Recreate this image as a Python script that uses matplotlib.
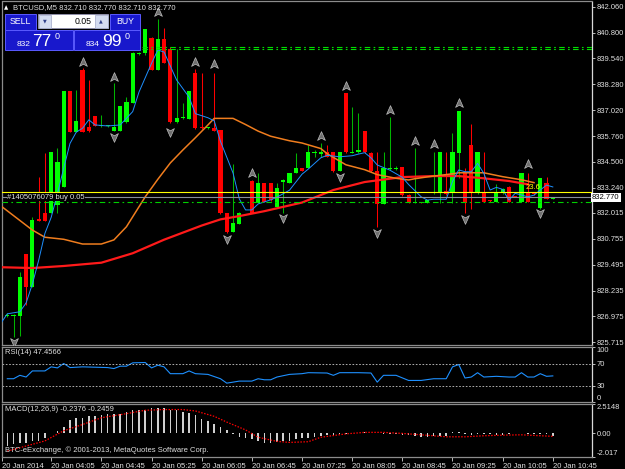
import numpy as np
import matplotlib
matplotlib.use("Agg")
import matplotlib.pyplot as plt
from matplotlib.patches import Rectangle
from matplotlib.path import Path
from matplotlib.transforms import blended_transform_factory

plt.rcParams["font.family"] = ["Liberation Sans", "DejaVu Sans"]

# ---------------- data ----------------
nan = float("nan")
opens = [826.99, 826.99, 826.99, 830.01, 828.39, 831.70, 831.99, 831.99, 832.40, 833.26,
         837.97, 835.97, 838.97, 836.22, 836.74, 836.25, 836.25, 836.02, 836.02, 836.46,
         837.39, 839.76, 839.79, 840.52, 838.97, 840.49, 839.98, 836.46, 836.62, 836.59,
         838.81, 836.22, 836.14, 836.14, 836.05, 831.99, 831.10, 831.47, nan, 833.59,
         832.51, 833.49, 833.49, 832.29, 833.54, 833.46, 833.98, 834.19, 834.19, 834.92,
         834.89, 835.00, 835.00, 834.07, 837.87, 834.95, 834.97, 836.00, 834.95, 834.07,
         832.45, 834.14, 834.14, 834.24, 832.89, 832.51, 832.56, 832.48, 832.97, 832.97,
         833.10, 832.97, 834.95, 834.02, 835.32, 832.97, 832.97, 832.61, 832.56, 832.97,
         833.29, 832.84, 832.56, 832.97, 832.97, 832.24, 833.46, 832.71]
highs = [827.12, 827.10, 829.15, 830.01, 831.83, 833.78, 834.92, 834.97, 835.16, 837.97,
         837.97, 838.00, 839.05, 838.49, 836.74, 836.79, 836.28, 838.33, 837.22, 837.68,
         839.87, 839.87, 840.97, 840.60, 841.46, 841.01, 840.11, 839.98, 837.39, 837.97,
         839.01, 838.85, 836.22, 838.85, 836.05, 832.03, 834.40, 832.06, nan, 833.62,
         833.98, 833.49, 833.49, 833.49, 833.67, 833.98, 834.92, 834.19, 835.32, 835.08,
         835.40, 835.32, 835.00, 835.00, 837.87, 837.19, 836.87, 836.00, 835.00, 835.00,
         835.00, 836.67, 834.30, 834.24, 832.92, 835.16, 832.56, 832.64, 835.00, 835.00,
         835.00, 835.89, 836.98, 834.19, 836.35, 835.00, 835.00, 832.64, 833.41, 833.21,
         833.33, 832.86, 833.98, 833.98, 833.05, 833.70, 833.75, 832.77]
lows = [826.96, 825.99, 826.02, 827.53, 828.39, 831.63, 831.63, 831.99, 831.99, 833.26,
        835.97, 835.97, 835.97, 835.97, 836.25, 836.22, 836.22, 836.00, 836.02, 836.38,
        837.39, 839.71, 839.71, 838.97, 838.97, 839.33, 836.41, 836.41, 836.59, 836.59,
        836.10, 836.10, 836.10, 836.02, 831.96, 831.02, 831.07, 831.47, nan, 831.99,
        832.48, 832.53, 832.61, 832.24, 831.99, 833.46, 833.94, 834.07, 834.19, 834.75,
        834.75, 834.72, 834.02, 834.07, 834.95, 834.95, 834.95, 834.95, 834.02, 831.35,
        832.45, 834.11, 834.11, 832.84, 832.48, 832.51, 832.48, 832.48, 832.94, 832.48,
        832.89, 832.48, 833.70, 831.99, 832.19, 832.94, 832.53, 832.56, 832.53, 832.94,
        832.53, 832.79, 832.53, 832.53, 832.89, 832.19, 832.68, 832.71]
closes = [827.04, 827.04, 828.91, 828.39, 831.67, 831.63, 831.63, 834.97, 834.48, 837.97,
          835.97, 836.51, 835.97, 836.02, 836.25, 836.28, 836.26, 836.22, 837.22, 837.40,
          839.79, 839.82, 840.97, 838.97, 840.47, 839.33, 836.46, 836.62, 836.67, 837.97,
          836.14, 836.14, 836.19, 836.02, 831.99, 831.10, 831.51, 832.03, nan, 831.99,
          833.49, 832.56, 832.64, 833.21, 833.62, 833.98, 834.19, 834.07, 835.00, 835.00,
          835.00, 834.75, 834.07, 835.00, 835.00, 835.00, 835.08, 835.00, 834.07, 832.45,
          834.19, 834.19, 834.22, 832.89, 832.51, 832.56, 832.48, 832.64, 833.05, 835.00,
          832.94, 835.00, 836.98, 832.48, 832.97, 835.00, 832.56, 832.59, 832.97, 833.16,
          832.56, 832.81, 833.98, 832.56, 832.94, 833.70, 832.71, 832.77]

# moving averages (bar index, price)
fast_ma_idx = [-1, 0, 2, 3, 4, 5, 6, 7, 8, 9, 10, 11, 12, 13, 14, 16, 18, 20, 21, 23, 24, 25,
               27, 29, 30, 32, 33, 34, 36, 37, 38, 39, 40, 42, 43, 45, 47, 48, 50, 51, 53, 55,
               56, 57, 58, 59, 61, 63, 64, 66, 67, 68, 70, 71, 72, 73, 74, 75, 76, 77, 78, 79,
               80, 81, 83, 84, 85, 86, 87]
fast_ma = [826.65, 827.10, 827.20, 827.63, 828.55, 829.70, 831.02, 831.80, 832.95, 834.20,
           835.40, 835.95, 836.14, 836.55, 836.30, 836.25, 836.30, 836.95, 837.90, 839.30,
           839.95, 839.85, 838.49, 837.65, 836.85, 836.65, 836.50, 835.50, 833.96, 832.70,
           832.16, 832.16, 832.45, 832.65, 832.78, 833.12, 833.90, 834.15, 834.70, 834.82,
           834.75, 834.80, 834.88, 834.95, 834.70, 834.35, 834.10, 833.75, 833.40, 832.80,
           832.64, 832.68, 832.68, 833.55, 834.11, 834.02, 834.02, 834.43, 833.94, 833.13,
           833.26, 833.16, 832.64, 832.97, 832.80, 832.88, 833.13, 833.37, 833.28]
mid_ma_idx = [-1, 4, 6, 9, 12, 15, 17, 19, 22, 24, 26, 28, 30, 32, 33, 36, 38, 40, 42, 45,
              47, 50, 51, 54, 57, 59, 62, 64, 65, 67, 71, 72, 76, 79, 82, 84]
mid_ma = [832.35, 831.18, 830.83, 830.73, 830.50, 830.50, 830.70, 831.34, 832.80, 833.65,
          834.45, 835.08, 835.68, 836.30, 836.62, 836.62, 836.32, 836.00, 835.75, 835.53,
          835.42, 835.15, 834.90, 834.36, 834.12, 833.88, 833.70, 833.62, 833.68, 833.77,
          833.92, 833.97, 833.97, 833.78, 833.63, 833.49]
slow_ma_idx = [-1, 4, 9, 15, 20, 25, 31, 34, 37, 41, 47, 52, 57, 63, 68, 72, 76, 80, 83]
slow_ma = [829.37, 829.33, 829.43, 829.59, 830.05, 830.71, 831.40, 831.70, 831.86, 832.10,
           832.52, 833.13, 833.52, 833.76, 833.81, 833.81, 833.70, 833.57, 833.41]

# fractals
frac_up_idx = [12, 17, 24, 30, 33, 39, 50, 54, 61, 65, 68, 72, 83]
frac_up = [839.38, 838.62, 841.82, 839.38, 839.27, 833.97, 835.76, 838.20, 837.03, 835.52,
           835.37, 837.35, 834.38]
frac_dn_idx = [1, 17, 26, 35, 44, 53, 59, 73, 85]
frac_dn = [825.74, 835.73, 835.97, 830.73, 831.75, 833.78, 831.05, 831.74, 831.99]

# horizontal levels
tp_levels = [840.11, 839.99]
tp_start = 21.5
sl_level = 832.53
order_level = 833.02
bid_level = 832.77

# RSI(14)
rsi_idx = [0, 1, 2, 3, 4, 6, 7, 8, 9, 10, 12, 16, 17, 18, 19, 20, 22, 23, 24, 25, 26, 28,
           29, 30, 32, 34, 35, 36, 37, 39, 40, 41, 42, 43, 45, 47, 48, 51, 52, 53, 56, 58,
           59, 60, 62, 64, 66, 68, 70, 71, 72, 73, 74, 75, 76, 78, 80, 81, 82, 83, 84, 85,
           86, 87]
rsi = [42.3, 42.3, 48.5, 45.4, 56.5, 56.5, 63.9, 62.0, 70.0, 62.6, 63.9, 62.6, 60.8, 65.1,
       65.1, 71.2, 71.8, 62.0, 66.9, 63.9, 51.5, 51.5, 56.5, 51.5, 50.2, 42.3, 34.3, 36.1,
       38.0, 38.0, 42.3, 40.4, 40.4, 45.4, 50.2, 51.5, 53.3, 52.7, 48.5, 53.3, 53.3, 52.7,
       36.1, 48.5, 48.5, 39.2, 39.2, 42.3, 42.3, 63.9, 68.1, 43.6, 45.4, 53.3, 45.4, 46.7,
       45.4, 45.4, 53.3, 45.4, 45.4, 51.5, 46.7, 47.46]

# MACD(12,26,9)
macd_hist = [-1.07, -0.93, -0.80, -0.78, -0.64, -0.64, -0.35, 0.00, 0.23, 0.52,
             1.16, 1.34, 1.34, 1.46, 1.46, 1.55, 1.69, 1.69, 1.69, 1.84,
             1.98, 1.98, 2.04, 2.21, 2.21, 2.21, 2.04, 1.98, 1.84, 1.75,
             1.55, 1.26, 1.05, 0.81, 0.52, 0.29, -0.06, -0.29, -0.35, -0.49,
             -0.64, -0.78, -0.78, -0.72, -0.64, -0.64, -0.49, -0.41, -0.35, -0.29,
             -0.20, -0.12, -0.12, -0.06, -0.06, 0.00, 0.06, 0.09, 0.06, 0.00,
             -0.06, -0.06, -0.06, -0.12, -0.12, -0.20, -0.29, -0.29, -0.23, -0.23,
             -0.20, 0.09, 0.09, -0.06, -0.12, -0.06, -0.06, -0.06, -0.12, -0.12,
             -0.06, 0.00, 0.06, -0.06, -0.06, -0.06, -0.06, -0.24]
macd_sig_idx = [0, 3, 6, 9, 12, 15, 19, 22, 25, 28, 30, 33, 35, 38, 40, 43, 45, 48, 50, 54,
                57, 60, 63, 66, 70, 73, 76, 79, 82, 87]
macd_sig = [-1.51, -1.08, -0.64, 0.23, 0.76, 1.34, 1.69, 1.98, 2.04, 2.04, 1.92, 1.46, 0.97,
            0.30, -0.33, -0.68, -0.77, -0.71, -0.33, -0.04, 0.09, 0.09, 0.00, -0.12, -0.29,
            -0.29, -0.20, -0.15, -0.12, -0.25]

price_ticks = [842.060, 840.800, 839.540, 838.280, 837.020, 835.760, 834.500, 833.240,
               832.015, 830.755, 829.495, 828.235, 826.975, 825.715]
time_idx = [-0.845, 7, 15, 23, 31, 39, 47, 55, 63, 71, 79, 87]
time_labels = ["20 Jan 2014", "20 Jan 04:05", "20 Jan 04:45", "20 Jan 05:25", "20 Jan 06:05",
               "20 Jan 06:45", "20 Jan 07:25", "20 Jan 08:05", "20 Jan 08:45", "20 Jan 09:25",
               "20 Jan 10:05", "20 Jan 10:45"]

# ---------------- figure ----------------
W, H = 625, 469
fig = plt.figure(figsize=(6.25, 4.69), dpi=100, facecolor="black")
FS = 5.5
TXT = "#e0e0e0"


def px_axes(x0, y0, x1, y1):
    return fig.add_axes([x0 / W, 1 - y1 / H, (x1 - x0) / W, (y1 - y0) / H], facecolor="black")


ax = px_axes(2, 1.5, 592, 345)
ax_rsi = px_axes(2, 347, 592, 402)
ax_macd = px_axes(2, 404, 592, 457)

for a in (ax, ax_rsi, ax_macd):
    a.set_xlim(-0.845, 93.25)
    for s in a.spines.values():
        s.set_color("#8c8c8c")
        s.set_linewidth(0.9)
    a.spines["right"].set_color("#d8d8d8")
    a.yaxis.tick_right()
    a.tick_params(axis="y", colors="#d8d8d8", labelcolor=TXT, labelsize=FS,
                  length=2, width=0.6, pad=1.5)
    a.tick_params(axis="x", bottom=False, labelbottom=False)

# candles
o = np.array(opens)
h = np.array(highs)
l = np.array(lows)
c = np.array(closes)
idx = np.arange(len(o))
ok = ~np.isnan(o)
bull = ok & (c >= o)
bear = ok & (c < o)
body = np.maximum(np.abs(c - o), 0.05)
bottom = np.minimum(o, c)
ax.vlines(idx[bull], l[bull], h[bull], color="#00b400", lw=0.75, zorder=2)
ax.vlines(idx[bear], l[bear], h[bear], color="#ff0000", lw=0.75, zorder=2)
ax.bar(idx[bull], body[bull], bottom=bottom[bull], width=0.66, color="#00ff00", lw=0, zorder=3)
ax.bar(idx[bear], body[bear], bottom=bottom[bear], width=0.66, color="#ff0000", lw=0, zorder=3)

# moving averages
ax.plot(slow_ma_idx, slow_ma, color="#ff1a1a", lw=1.6, zorder=4)
ax.plot(mid_ma_idx, mid_ma, color="#f07d1e", lw=1.1, zorder=4)
ax.plot(fast_ma_idx, fast_ma, color="#1e90ff", lw=0.7, zorder=5)

# levels
for lv in tp_levels:
    ax.plot([tp_start, 93.25], [lv, lv], color="#00e000", lw=0.8, ls=(0, (5, 3, 1.5, 3)), zorder=5)
ax.axhline(sl_level, color="#00d000", lw=0.8, ls=(0, (5, 3, 1.5, 3)), zorder=5)
ax.axhline(bid_level, color="#8a8f99", lw=0.8, zorder=5)
ax.axhline(order_level, color="#ffff00", lw=0.8, zorder=6)
ax.text(0.0, bid_level + 0.01, "#1405076079 buy 0.05", color=TXT, fontsize=FS, ha="left",
        va="center", zorder=7, bbox=dict(facecolor="black", edgecolor="none", pad=0.3))
ax.text(82.6, 833.23, "23.6", color="#ffff00", fontsize=FS, ha="left", va="center", zorder=7)

# fractal arrows
up_arrow = Path([(0, 1), (0.8, -0.8), (0, -0.35), (-0.8, -0.8), (0, 1)],
                [Path.MOVETO, Path.LINETO, Path.LINETO, Path.LINETO, Path.CLOSEPOLY])
dn_arrow = Path([(0, -1), (0.8, 0.8), (0, 0.35), (-0.8, 0.8), (0, -1)],
                [Path.MOVETO, Path.LINETO, Path.LINETO, Path.LINETO, Path.CLOSEPOLY])
ax.plot(frac_up_idx, frac_up, ls="none", marker=up_arrow, ms=7, mfc="#6e6e6e",
        mec="#bdbdbd", mew=0.5, zorder=6)
ax.plot(frac_dn_idx, frac_dn, ls="none", marker=dn_arrow, ms=7, mfc="#6e6e6e",
        mec="#bdbdbd", mew=0.5, zorder=6)

ax.set_ylim(825.581, 842.313)
ax.set_yticks(price_ticks)
ax.set_yticklabels([f"{p:.3f}" for p in price_ticks])
ax.text(1.0, bid_level, "832.770", transform=blended_transform_factory(ax.transAxes, ax.transData),
        color="black", fontsize=FS, ha="left", va="center", zorder=8, clip_on=False,
        bbox=dict(facecolor="white", edgecolor="none", pad=0.8))

# RSI
ax_rsi.plot(rsi_idx, rsi, color="#1e90ff", lw=0.8)
for lv in (70, 30):
    ax_rsi.axhline(lv, color="#c8c8c8", lw=0.6, ls=(0, (2, 2)))
ax_rsi.set_ylim(0, 100)
ax_rsi.set_yticks([100, 70, 30, 0])
ax_rsi.set_yticklabels(["100", "70", "30", "0"])
tl = ax_rsi.get_yticklabels()
tl[0].set_va("top")
tl[3].set_va("bottom")

# MACD
ax_macd.bar(np.arange(len(macd_hist)), macd_hist, width=0.25, color="#d0d0d0", lw=0)
ax_macd.plot(macd_sig_idx, macd_sig, color="#ff0000", lw=0.9, ls=(0, (1.2, 1.2)))
ax_macd.set_ylim(-2.017, 2.5148)
ax_macd.set_yticks([2.5148, 0.0, -2.017])
ax_macd.set_yticklabels(["2.5148", "0.00", "-2.017"])
tl = ax_macd.get_yticklabels()
tl[0].set_va("top")
tl[2].set_va("bottom")
ax_macd.set_xticks(time_idx)
ax_macd.set_xticklabels(time_labels, ha="left")
ax_macd.tick_params(axis="x", bottom=True, labelbottom=True, colors="#d8d8d8",
                    labelcolor=TXT, labelsize=FS, length=3, width=0.6, pad=1)

# ---------------- overlay: labels and trade panel ----------------
ov = fig.add_axes([0, 0, 1, 1], facecolor="none")
ov.set_xlim(0, W)
ov.set_ylim(H, 0)
ov.axis("off")

ov.text(4, 7.5, "\u25b2", color="white", fontsize=4, va="center", family="DejaVu Sans")
ov.text(13, 7.5, "BTCUSD,M5 832.710 832.770 832.710 832.770", color=TXT, fontsize=FS, va="center")
ov.text(5, 353, "RSI(14) 47.4566", color=TXT, fontsize=FS, va="center")
ov.text(5, 409.5, "MACD(12,26,9) -0.2376 -0.2459", color=TXT, fontsize=FS, va="center")
ov.text(5, 450.5, "BTC-eExchange, \u00a9 2001-2013, MetaQuotes Software Corp.", color=TXT,
        fontsize=FS, va="center")

BLUE = "#1818cc"
EDGE = "#5a5aff"
for x0, y0, x1, y1 in [(5, 14, 36, 30), (110, 14, 140, 30), (5, 30.5, 73, 50), (74, 30.5, 140, 50)]:
    ov.add_patch(Rectangle((x0, y0), x1 - x0, y1 - y0, facecolor=BLUE, edgecolor=EDGE, lw=0.7))
ov.add_patch(Rectangle((38, 14), 70, 14.5, facecolor="white", edgecolor="#9090b0", lw=0.6))
for x0 in (38.5, 95):
    ov.add_patch(Rectangle((x0, 14.6), 12.5, 13.3, facecolor="#d4dcf0", edgecolor="#a0a8c8", lw=0.5))
ov.text(44.7, 21.3, "\u25bc", color="#30408a", fontsize=3.5, ha="center", va="center", family="DejaVu Sans")
ov.text(101.2, 21.3, "\u25b2", color="#30408a", fontsize=3.5, ha="center", va="center", family="DejaVu Sans")
ov.text(92, 21.5, "0.05", color="black", fontsize=6.3, ha="right", va="center")
ov.text(20.5, 22, "SELL", color="white", fontsize=6.3, ha="center", va="center")
ov.text(125, 22, "BUY", color="white", fontsize=6.3, ha="center", va="center")
ov.text(17, 44, "832", color="white", fontsize=6, va="center")
ov.text(32.5, 41, "77", color="white", fontsize=12.5, va="center")
ov.text(55, 36.5, "0", color="white", fontsize=6.5, va="center")
ov.text(86, 44, "834", color="white", fontsize=6, va="center")
ov.text(102, 41, "99", color="white", fontsize=12.5, va="center")
ov.text(124.5, 36.5, "0", color="white", fontsize=6.5, va="center")

fig.savefig("out.png", dpi=100, facecolor="black")
